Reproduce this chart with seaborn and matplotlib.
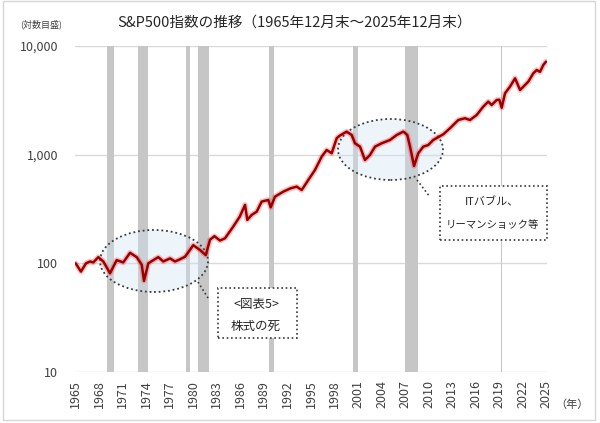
import numpy as np
import pandas as pd
import matplotlib
matplotlib.use("Agg")
import matplotlib.pyplot as plt
from matplotlib.patches import Ellipse, Rectangle
from matplotlib.lines import Line2D
from matplotlib.ticker import NullLocator
import seaborn as sns

# ---- data ----
time_pts = [1965.92, 1966.6, 1967.24, 1967.75, 1968.17, 1968.81, 1969.45, 1970.3, 1971.15, 1971.99,
            1972.85, 1973.7, 1974.34, 1974.63, 1975.18, 1975.82, 1976.45, 1977.09, 1977.94, 1978.58,
            1979.22, 1979.85, 1980.49, 1980.9, 1981.8, 1982.5, 1983.04, 1983.6, 1984.31, 1984.95,
            1986.0, 1986.83, 1987.5, 1987.79, 1988.35, 1988.99, 1989.62, 1990.46, 1990.77, 1991.32,
            1992.38, 1993.3, 1994.08, 1994.72, 1995.56, 1996.41, 1997.27, 1997.9, 1998.54, 1999.18,
            1999.51, 2000.45, 2001.09, 2001.51, 2002.15, 2002.78, 2003.42, 2004.06, 2004.91, 2005.97,
            2006.82, 2007.67, 2008.17, 2008.52, 2009.03, 2009.57, 2010.21, 2010.85, 2011.48, 2012.12,
            2012.76, 2013.61, 2014.67, 2015.52, 2016.16, 2017.01, 2017.85, 2018.49, 2018.92, 2019.56,
            2019.9, 2020.2, 2020.62, 2021.26, 2021.9, 2022.54, 2022.96, 2023.59, 2024.23, 2024.66,
            2025.08, 2025.5, 2025.84]
sp500 = [100, 84, 100, 104, 102, 114, 104, 81, 107, 102,
         125, 114, 97, 69, 100, 107, 114, 104, 111, 104,
         109, 115, 133, 147, 132, 119, 165, 178, 162, 170,
         218, 269, 345, 251, 279, 299, 370, 383, 328, 411,
         457, 490, 508, 473, 585, 723, 959, 1104, 1031, 1416,
         1486, 1631, 1517, 1273, 1185, 893, 994, 1185, 1273, 1365,
         1517, 1631, 1517, 1185, 787, 1031, 1185, 1228, 1365, 1450,
         1540, 1750, 2084, 2164, 2084, 2318, 2766, 3077, 2865, 3187,
         3200, 2700, 3673, 4228, 5044, 3936, 4228, 4700, 5610, 6013,
         5780, 6686, 7175]

rec_start = [1969.92, 1973.83, 1980.0, 1981.5, 1990.55, 2001.2, 2007.92, 2020.1]
rec_end = [1970.83, 1975.2, 1980.55, 1982.85, 1991.2, 2001.85, 2009.5, 2020.3]

tick_years = list(range(1965, 2026, 3))
y_ticks = [10, 100, 1000, 10000]
y_labels = ["10", "100", "1,000", "10,000"]

title = "S&P500指数の推移（1965年12月末～2025年12月末）"
note1 = ["<図表5>", "株式の死"]
note2 = ["ITバブル、", "リーマンショック等"]

df = pd.DataFrame({"t": time_pts, "v": sp500})

# ---- style ----
sns.set_theme(style="white")
plt.rcParams['font.family'] = ['Noto Sans CJK JP', 'DejaVu Sans']

W, H = 600, 423
fig = plt.figure(figsize=(6, 4.23), dpi=100)
fig.patch.set_facecolor("white")

def fx(px):
    return px / W

def fy(py):
    return 1 - py / H

ax_l, ax_r, ax_t, ax_b = 75, 547, 46, 372
ax = fig.add_axes([fx(ax_l), fy(ax_b), (ax_r - ax_l) / W, (ax_b - ax_t) / H])

# recession bands
for s, e in zip(rec_start, rec_end):
    ax.axvspan(s, e, color="#c6c6c6", lw=0, zorder=1)

# ellipses (axes coords, from pixel layout)
def to_ax(px, py):
    return (px - ax_l) / (ax_r - ax_l), (ax_b - py) / (ax_b - ax_t)

for (cx, cy, w, h) in [(154, 261, 108, 62), (390.5, 149.5, 105, 61)]:
    acx, acy = to_ax(cx, cy)
    e = Ellipse((acx, acy), w / (ax_r - ax_l), h / (ax_b - ax_t), transform=ax.transAxes,
                facecolor=(0.82, 0.89, 0.95, 0.38), edgecolor="#3a3a3a", lw=1.3,
                linestyle=(0, (1, 1.6)), zorder=2, clip_on=False)
    ax.add_patch(e)

# line with glow
sns.lineplot(data=df, x="t", y="v", ax=ax, color="#ff2a2a", lw=4.0, alpha=0.3,
             estimator=None, sort=False, zorder=3)
sns.lineplot(data=df, x="t", y="v", ax=ax, color="#9a0000", lw=1.8,
             estimator=None, sort=False, zorder=4)

ax.set_yscale("log")
ax.set_ylim(10, 10000)
ax.set_xlim(1965.84, 2025.97)
ax.set_yticks(y_ticks)
ax.set_yticklabels(y_labels)
ax.yaxis.set_minor_locator(NullLocator())
ax.set_xticks([y + 0.9 for y in tick_years])
ax.set_xticklabels([str(y) for y in tick_years], rotation=90)
ax.set_xlabel("")
ax.set_ylabel("")
ax.yaxis.grid(True, color="#d9d9d9", lw=1.0, zorder=0)
ax.xaxis.grid(False)
ax.set_axisbelow(True)
for sp in ax.spines.values():
    sp.set_visible(False)
ax.tick_params(axis="y", length=0, pad=12, labelsize=9, labelcolor="#404040")
ax.tick_params(axis="x", length=0, pad=6, labelsize=9, labelcolor="#404040")

# title and small labels
fig.text(fx(294), fy(23), title, ha="center", va="center", fontsize=10.5, color="#262626")
fig.text(fx(41), fy(24), "(対数目盛)", ha="center", va="center", fontsize=6.5, color="#404040")
fig.text(fx(572), fy(405), "（年）", ha="center", va="center", fontsize=8, color="#404040")

# annotation boxes
dot = (0, (1, 1.6))
for (x0, y0, x1, y1) in [(218, 288, 297, 338), (440, 186, 547, 240)]:
    fig.patches.append(Rectangle((fx(x0), fy(y1)), (x1 - x0) / W, (y1 - y0) / H,
                                 transform=fig.transFigure, facecolor="white",
                                 edgecolor="#3a3a3a", lw=1.2, linestyle=dot, zorder=5))
for (xa, ya, xb, yb) in [(198, 282, 208, 298), (417, 180, 430, 197)]:
    fig.lines.append(Line2D([fx(xa), fx(xb)], [fy(ya), fy(yb)], transform=fig.transFigure,
                            color="#3a3a3a", lw=1.2, linestyle=dot, zorder=5))

fig.text(fx(256), fy(304), note1[0], ha="center", va="center", fontsize=9, color="#262626", zorder=6)
fig.text(fx(256), fy(326), note1[1], ha="center", va="center", fontsize=9, color="#262626", zorder=6)
fig.text(fx(492), fy(202), note2[0], ha="center", va="center", fontsize=8, color="#262626", zorder=6)
fig.text(fx(492), fy(225), note2[1], ha="center", va="center", fontsize=7.5, color="#262626", zorder=6)

# outer frame
fig.patches.append(Rectangle((fx(3), fy(420)), (595 - 3) / W, (420 - 1) / H,
                             transform=fig.transFigure, fill=False, edgecolor="#d6d6d6", lw=1.0))

fig.savefig("out.png", dpi=100)
